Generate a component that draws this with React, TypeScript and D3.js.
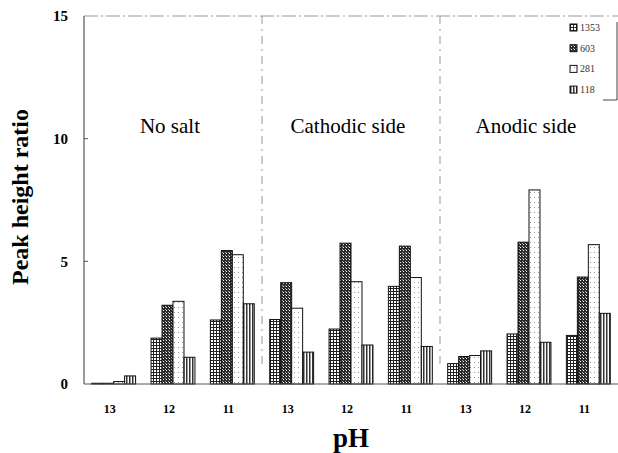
import React, { useEffect, useRef } from "react";
import * as d3 from "d3";

// pH of each group, left to right
const phLabels = ["13", "12", "11", "13", "12", "11", "13", "12", "11"];
const sections = ["No salt", "Cathodic side", "Anodic side"];
const seriesNames = ["1353", "603", "281", "118"];

// peak height ratio per series, one value per group
const s1353 = [0.03, 1.87, 2.61, 2.63, 2.24, 3.98, 0.83, 2.04, 1.98];
const s603 = [0.03, 3.21, 5.44, 4.13, 5.74, 5.62, 1.12, 5.78, 4.36];
const s281 = [0.1, 3.37, 5.27, 3.09, 4.17, 4.34, 1.16, 7.91, 5.68];
const s118 = [0.33, 1.09, 3.27, 1.3, 1.59, 1.53, 1.35, 1.7, 2.88];

const yTicks = [0, 5, 10, 15];

const SERIF = "'Liberation Serif', 'Times New Roman', 'DejaVu Serif', serif";

function App() {
  const chartRef = useRef<SVGSVGElement>(null);

  function drawChart() {
    const width = 618,
      height = 453;
    const margin = { top: 16, right: 0, bottom: 69, left: 84 };

    const svg = d3.select(chartRef.current);
    svg.selectAll("*").remove();

    const seriesValues = [s1353, s603, s281, s118];
    const groupIdx = phLabels.map((_, i) => String(i));

    const x0 = d3
      .scaleBand()
      .domain(groupIdx)
      .range([margin.left, width - margin.right])
      .paddingInner(0.26)
      .paddingOuter(0.13);

    const x1 = d3
      .scaleBand()
      .domain(seriesNames)
      .range([0, x0.bandwidth()]);

    const y = d3
      .scaleLinear()
      .domain([0, 15])
      .range([height - margin.bottom, margin.top]);

    const step = x0.step();
    const plotLeft = margin.left;
    const plotRight = width - margin.right;

    // patterns
    const defs = svg.append("defs");

    const grid = defs
      .append("pattern")
      .attr("id", "p1353")
      .attr("width", 3)
      .attr("height", 3)
      .attr("patternUnits", "userSpaceOnUse");
    grid.append("rect").attr("width", 3).attr("height", 3).attr("fill", "#fff");
    grid.append("rect").attr("x", 0).attr("width", 1).attr("height", 3).attr("fill", "#222");
    grid.append("rect").attr("y", 0).attr("width", 3).attr("height", 1).attr("fill", "#222");

    const check = defs
      .append("pattern")
      .attr("id", "p603")
      .attr("width", 3)
      .attr("height", 3)
      .attr("patternUnits", "userSpaceOnUse");
    check.append("rect").attr("width", 3).attr("height", 3).attr("fill", "#2a2a2a");
    check.append("rect").attr("x", 1).attr("y", 1).attr("width", 1).attr("height", 1).attr("fill", "#fff");
    check.append("rect").attr("x", 0).attr("y", 0).attr("width", 1).attr("height", 1).attr("fill", "#aaa");

    const dots = defs
      .append("pattern")
      .attr("id", "p281")
      .attr("width", 4)
      .attr("height", 5)
      .attr("patternUnits", "userSpaceOnUse");
    dots.append("rect").attr("width", 4).attr("height", 5).attr("fill", "#fff");
    dots.append("rect").attr("x", 2).attr("y", 2).attr("width", 1).attr("height", 1).attr("fill", "#999");

    const vlines = defs
      .append("pattern")
      .attr("id", "p118")
      .attr("width", 3)
      .attr("height", 3)
      .attr("patternUnits", "userSpaceOnUse");
    vlines.append("rect").attr("width", 3).attr("height", 3).attr("fill", "#fff");
    vlines.append("rect").attr("x", 0).attr("width", 1).attr("height", 3).attr("fill", "#333");
    vlines.append("rect").attr("x", 1).attr("width", 1).attr("height", 3).attr("fill", "#999");

    const fills = ["url(#p1353)", "url(#p603)", "url(#p281)", "url(#p118)"];

    // top border, dividers
    svg
      .append("line")
      .attr("x1", plotLeft)
      .attr("x2", plotRight)
      .attr("y1", y(15))
      .attr("y2", y(15))
      .attr("stroke", "#999")
      .attr("stroke-dasharray", "14,3,2,3");

    [3, 6].forEach((k) => {
      const xd = plotLeft + k * step;
      svg
        .append("line")
        .attr("x1", xd)
        .attr("x2", xd)
        .attr("y1", y(15))
        .attr("y2", y(0.8))
        .attr("stroke", "#999")
        .attr("stroke-dasharray", "8,5,2,5");
    });

    // bars
    seriesValues.forEach((vals, si) => {
      svg
        .append("g")
        .selectAll("rect")
        .data(vals)
        .enter()
        .append("rect")
        .attr("x", (d, i) => (x0(String(i)) as number) + (x1(seriesNames[si]) as number))
        .attr("y", (d) => y(d))
        .attr("width", x1.bandwidth())
        .attr("height", (d) => y(0) - y(d))
        .attr("fill", fills[si])
        .attr("stroke", "#111")
        .attr("stroke-width", 1);
    });

    // axes lines
    svg
      .append("line")
      .attr("x1", plotLeft)
      .attr("x2", plotRight)
      .attr("y1", y(0))
      .attr("y2", y(0))
      .attr("stroke", "#555")
      .attr("stroke-width", 1.2);

    svg
      .append("line")
      .attr("x1", plotLeft)
      .attr("x2", plotLeft)
      .attr("y1", y(15))
      .attr("y2", y(0))
      .attr("stroke", "#555")
      .attr("stroke-width", 1.2);

    svg
      .append("g")
      .selectAll("line")
      .data(yTicks.filter((t) => t > 0 && t < 15))
      .enter()
      .append("line")
      .attr("x1", plotLeft)
      .attr("x2", plotLeft + 4)
      .attr("y1", (d) => y(d))
      .attr("y2", (d) => y(d))
      .attr("stroke", "#555");

    svg
      .append("g")
      .selectAll("text")
      .data(yTicks)
      .enter()
      .append("text")
      .attr("x", 68)
      .attr("y", (d) => y(d))
      .attr("dy", "0.35em")
      .attr("text-anchor", "end")
      .attr("font-family", SERIF)
      .attr("font-weight", "bold")
      .attr("font-size", 15)
      .text((d) => d);

    svg
      .append("g")
      .selectAll("text")
      .data(phLabels)
      .enter()
      .append("text")
      .attr("x", (d, i) => (x0(String(i)) as number) + x0.bandwidth() / 2 - 4)
      .attr("y", 413)
      .attr("text-anchor", "middle")
      .attr("font-family", SERIF)
      .attr("font-weight", "bold")
      .attr("font-size", 12)
      .text((d) => d);

    // section titles
    svg
      .append("g")
      .selectAll("text")
      .data(sections)
      .enter()
      .append("text")
      .attr("x", (d, i) => plotLeft + (i * 3 + 1.5) * step - 3)
      .attr("y", 133)
      .attr("text-anchor", "middle")
      .attr("font-family", SERIF)
      .attr("font-size", 21)
      .text((d) => d);

    // axis titles
    svg
      .append("text")
      .attr("transform", "translate(28,197) rotate(-90)")
      .attr("text-anchor", "middle")
      .attr("font-family", SERIF)
      .attr("font-weight", "bold")
      .attr("font-size", 24)
      .text("Peak height ratio");

    svg
      .append("text")
      .attr("x", (plotLeft + plotRight) / 2)
      .attr("y", 447)
      .attr("text-anchor", "middle")
      .attr("font-family", SERIF)
      .attr("font-weight", "bold")
      .attr("font-size", 27)
      .text("pH");

    // legend
    const legend = svg
      .selectAll(".legend")
      .data(seriesNames)
      .enter()
      .append("g")
      .attr("class", "legend");

    legend
      .append("rect")
      .attr("x", 570)
      .attr("y", (d, i) => 24 + i * 20.7)
      .attr("width", 7)
      .attr("height", 7)
      .attr("fill", (d, i) => fills[i])
      .attr("stroke", "#111");

    legend
      .append("text")
      .attr("x", 580)
      .attr("y", (d, i) => 27.5 + i * 20.7)
      .attr("dy", "0.35em")
      .attr("font-family", SERIF)
      .attr("font-size", 10)
      .attr("fill", "#333")
      .text((d) => d);

    svg
      .append("line")
      .attr("x1", 617)
      .attr("x2", 617)
      .attr("y1", 22)
      .attr("y2", 100)
      .attr("stroke", "#444");
    svg
      .append("line")
      .attr("x1", 603)
      .attr("x2", 617)
      .attr("y1", 100)
      .attr("y2", 100)
      .attr("stroke", "#444");
  }

  useEffect(() => {
    drawChart();
  }, []);

  return (
    <svg
      ref={chartRef}
      width={618}
      height={453}
      style={{ position: "absolute", left: 0, top: 0, background: "#fff" }}
    ></svg>
  );
}

export default App;
